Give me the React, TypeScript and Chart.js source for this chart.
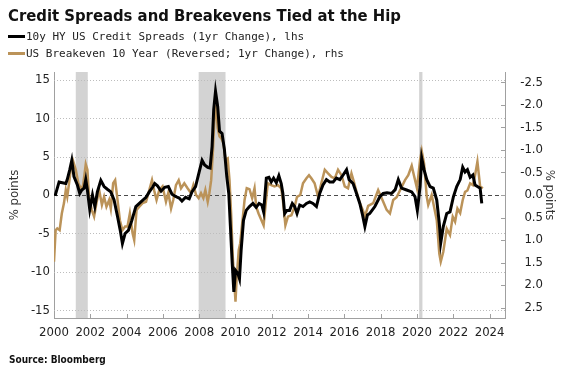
import React, { useEffect, useRef } from 'react';
import { Chart, registerables } from 'chart.js';

Chart.register(...registerables);

const TITLE = 'Credit Spreads and Breakevens Tied at the Hip';
const LEGEND_CS = '10y HY US Credit Spreads (1yr Change), lhs';
const LEGEND_BE = 'US Breakeven 10 Year (Reversed; 1yr Change), rhs';
const SOURCE = 'Source: Bloomberg';
const AXIS_TITLE = '% points';

const X_TICKS = [2000, 2002, 2004, 2006, 2008, 2010, 2012, 2014, 2016, 2018, 2020, 2022, 2024];
const LEFT_TICKS = [-15, -10, -5, 0, 5, 10, 15];
const RIGHT_TICKS = [-2.5, -2.0, -1.5, -1.0, -0.5, 0.0, 0.5, 1.0, 1.5, 2.0, 2.5];

const RECESSION_START = [2001.2, 2007.97, 2020.12];
const RECESSION_END = [2001.86, 2009.45, 2020.3];

const CS_DATES = [
  2000.06, 2000.28, 2000.46, 2000.65, 2000.73, 2000.87, 2000.98, 2001.10, 2001.29, 2001.42,
  2001.53, 2001.66, 2001.75, 2001.84, 2001.97, 2002.12, 2002.25, 2002.39, 2002.58, 2002.76,
  2002.94, 2003.13, 2003.31, 2003.50, 2003.65, 2003.77, 2003.92, 2004.10, 2004.29, 2004.51,
  2004.79, 2005.07, 2005.25, 2005.43, 2005.55, 2005.70, 2005.90, 2006.10, 2006.30, 2006.50,
  2006.70, 2006.90, 2007.05, 2007.25, 2007.45, 2007.60, 2007.80, 2008.00, 2008.16, 2008.30,
  2008.47, 2008.60, 2008.71, 2008.80, 2008.90, 2009.02, 2009.12, 2009.26, 2009.39, 2009.52,
  2009.63, 2009.72, 2009.82, 2009.91, 2010.00, 2010.13, 2010.22, 2010.31, 2010.44, 2010.59,
  2010.77, 2010.96, 2011.14, 2011.30, 2011.45, 2011.55, 2011.70, 2011.84, 2011.97, 2012.10,
  2012.25, 2012.39, 2012.52, 2012.61, 2012.71, 2012.83, 2012.98, 2013.13, 2013.26, 2013.39,
  2013.54, 2013.72, 2013.91, 2014.09, 2014.27, 2014.46, 2014.64, 2014.82, 2015.01, 2015.19,
  2015.38, 2015.56, 2015.75, 2015.93, 2016.12, 2016.26, 2016.48, 2016.67, 2016.85, 2017.00,
  2017.13, 2017.27, 2017.40, 2017.68, 2017.96, 2018.14, 2018.35, 2018.60, 2018.80, 2018.97,
  2019.15, 2019.43, 2019.71, 2019.89, 2020.02, 2020.17, 2020.26, 2020.39, 2020.54, 2020.72,
  2020.90, 2021.09, 2021.23, 2021.31, 2021.45, 2021.64, 2021.82, 2022.01, 2022.19, 2022.38,
  2022.52, 2022.65, 2022.78, 2022.93, 2023.08, 2023.20, 2023.33, 2023.48, 2023.57,
];
const CS_VALUES = [
  -0.1, 1.7, 1.6, 1.5, 2.0, 3.3, 4.5, 2.4, 1.3, 0.2,
  0.65, 0.9, 2.0, 0.65, -1.9, 0.0, -1.5, 0.4, 1.9, 1.1,
  0.75, 0.4, -0.65, -2.8, -4.6, -6.3, -5.0, -4.6, -3.3, -1.5,
  -0.9, -0.3, 0.4, 1.0, 1.5, 1.2, 0.5, 1.0, 1.1, 0.1,
  -0.2, -0.4, -0.8, -0.3, -0.5, 0.4, 1.1, 3.0, 4.5, 3.9,
  3.6, 3.5, 6.3, 11.1, 13.5, 11.5, 8.3, 8.0, 5.9, 2.4,
  0.2, -4.1, -8.9, -12.6, -9.8, -10.2, -10.9, -7.2, -3.3, -2.0,
  -1.5, -1.1, -1.6, -1.1, -1.3, -2.2, 2.2, 2.3, 1.7, 2.2,
  1.6, 2.5, 1.5, 0.2, -2.4, -2.0, -2.0, -1.1, -1.5, -2.4,
  -1.3, -1.5, -1.1, -0.9, -1.1, -1.5, 0.2, 1.3, 2.0, 1.7,
  1.7, 2.2, 2.0, 2.6, 3.3, 2.0, 1.5, 0.2, -1.1, -2.6,
  -4.1, -2.6, -2.4, -1.5, -0.2, 0.2, 0.3, 0.2, 0.7, 2.0,
  0.9, 0.65, 0.4, -0.2, -2.0, 1.1, 4.8, 3.3, 2.0, 1.1,
  0.9, -0.65, -3.7, -6.2, -4.1, -2.4, -2.2, -0.2, 1.1, 2.0,
  3.6, 3.0, 3.3, 2.3, 2.6, 1.3, 1.1, 0.9, -1.1,
];

const BE_DATES = [
  2000.00, 2000.09, 2000.18, 2000.31, 2000.43, 2000.55, 2000.65, 2000.73, 2000.83, 2000.92,
  2001.05, 2001.20, 2001.34, 2001.48, 2001.60, 2001.75, 2001.84, 2001.93, 2002.08, 2002.21,
  2002.34, 2002.49, 2002.64, 2002.76, 2002.89, 2003.04, 2003.13, 2003.26, 2003.37, 2003.50,
  2003.63, 2003.77, 2003.92, 2004.05, 2004.18, 2004.33, 2004.42, 2004.55, 2004.70, 2004.88,
  2005.07, 2005.25, 2005.40, 2005.52, 2005.65, 2005.80, 2005.98, 2006.17, 2006.30, 2006.45,
  2006.57, 2006.72, 2006.87, 2007.00, 2007.18, 2007.36, 2007.55, 2007.68, 2007.83, 2007.97,
  2008.10, 2008.23, 2008.34, 2008.47, 2008.56, 2008.66, 2008.75, 2008.86, 2008.93, 2009.02,
  2009.12, 2009.23, 2009.34, 2009.45, 2009.57, 2009.67, 2009.76, 2009.85, 2009.94, 2010.00,
  2010.07, 2010.18, 2010.26, 2010.37, 2010.50, 2010.62, 2010.77, 2010.92, 2011.05, 2011.14,
  2011.27, 2011.55, 2011.70, 2011.78, 2011.97, 2012.15, 2012.34, 2012.52, 2012.61, 2012.75,
  2012.89, 2013.08, 2013.26, 2013.39, 2013.57, 2013.72, 2013.91, 2014.05, 2014.18, 2014.36,
  2014.55, 2014.73, 2014.92, 2015.10, 2015.29, 2015.47, 2015.65, 2015.84, 2016.02, 2016.20,
  2016.39, 2016.52, 2016.67, 2016.85, 2017.03, 2017.13, 2017.31, 2017.59, 2017.86, 2018.14,
  2018.33, 2018.51, 2018.69, 2018.88, 2019.06, 2019.34, 2019.52, 2019.71, 2019.83, 2020.00,
  2020.17, 2020.26, 2020.39, 2020.54, 2020.62, 2020.81, 2020.94, 2021.09, 2021.23, 2021.31,
  2021.45, 2021.64, 2021.82, 2021.97, 2022.10, 2022.23, 2022.38, 2022.52, 2022.65, 2022.78,
  2022.93, 2023.08, 2023.20, 2023.33, 2023.48, 2023.63,
];
const BE_VALUES = [
  1.48, 0.78, 0.74, 0.78, 0.41, 0.18, -0.11, 0.04, -0.26, -0.56,
  -0.76, -0.56, -0.26, -0.15, -0.2, -0.68, -0.56, 0.04, 0.33, 0.48,
  0.18, -0.11, 0.22, 0.04, 0.26, 0.11, 0.3, -0.26, -0.33, 0.11,
  0.56, 0.78, 0.7, 0.7, 0.41, 0.85, 1.0, 0.33, 0.26, 0.18,
  0.15, -0.11, -0.33, -0.1, 0.11, -0.11, -0.19, 0.15, -0.05, 0.3,
  0.11, -0.22, -0.33, -0.15, -0.26, -0.15, -0.04, -0.22, 0.0, 0.07,
  -0.04, 0.07, -0.11, 0.15, -0.04, -0.33, -0.93, -1.89, -1.96, -1.48,
  -1.3, -1.25, -1.15, -0.78, -0.81, -0.33, 0.41, 1.37, 1.96, 2.37,
  1.81, 1.22, 1.07, 0.63, 0.11, -0.15, -0.13, 0.07, -0.15, 0.26,
  0.41, 0.67, 0.04, -0.26, -0.22, -0.19, -0.22, -0.15, 0.11, 0.67,
  0.48, 0.45, 0.26, 0.04, 0.0, -0.26, -0.37, -0.44, -0.37, -0.26,
  0.04, -0.26, -0.56, -0.48, -0.4, -0.37, -0.56, -0.44, -0.19, -0.15,
  -0.48, -0.3, -0.07, 0.18, 0.35, 0.48, 0.24, 0.18, -0.11, 0.15,
  0.33, 0.41, 0.11, 0.05, -0.1, -0.33, -0.44, -0.65, -0.44, -0.15,
  -0.78, -0.98, -0.7, 0.04, 0.22, 0.0, 0.26, 0.56, 1.3, 1.48,
  1.26, 0.75, 0.89, 0.48, 0.59, 0.3, 0.4, 0.11, -0.07, -0.1,
  -0.26, -0.22, -0.44, -0.74, -0.19, -0.15,
];

const CS_COLOR = '#000000';
const BE_COLOR = '#bb9359';
const FONT_FAMILY = '"DejaVu Sans Condensed", "DejaVu Sans", sans-serif';
const MONO_FAMILY = '"DejaVu Sans Mono", monospace';

const decorPlugin = {
  id: 'decor',
  beforeDatasetsDraw(chart: any) {
    const { ctx, chartArea: a, scales } = chart;
    const x = scales.x;
    const y = scales.y;
    const y1 = scales.y1;
    ctx.save();
    ctx.fillStyle = '#d3d3d3';
    RECESSION_START.forEach((s, i) => {
      const x0 = x.getPixelForValue(s);
      const x1 = x.getPixelForValue(RECESSION_END[i]);
      ctx.fillRect(x0, a.top, x1 - x0, a.bottom - a.top);
    });
    ctx.lineWidth = 1;
    LEFT_TICKS.forEach((v) => {
      const py = Math.round(y.getPixelForValue(v)) + 0.5;
      ctx.beginPath();
      if (v === 0) {
        ctx.setLineDash([4, 3]);
        ctx.strokeStyle = '#4a4a4a';
      } else {
        ctx.setLineDash([1, 2]);
        ctx.strokeStyle = '#bdbdbd';
      }
      ctx.moveTo(a.left, py);
      ctx.lineTo(a.right, py);
      ctx.stroke();
    });
    ctx.setLineDash([]);
    ctx.strokeStyle = '#a0a0a0';
    X_TICKS.forEach((v) => {
      const px = Math.round(x.getPixelForValue(v)) + 0.5;
      ctx.beginPath();
      ctx.moveTo(px, a.bottom);
      ctx.lineTo(px, a.bottom - 4);
      ctx.stroke();
    });
    RIGHT_TICKS.forEach((v) => {
      const py = Math.round(y1.getPixelForValue(v)) + 0.5;
      ctx.beginPath();
      ctx.moveTo(a.right, py);
      ctx.lineTo(a.right - 4, py);
      ctx.stroke();
    });
    ctx.restore();
  },
};

export default function App() {
  const ref = useRef<HTMLCanvasElement>(null);

  useEffect(() => {
    if (!ref.current) return;
    const chart = new Chart(ref.current, {
      type: 'line',
      data: {
        datasets: [
          {
            label: LEGEND_CS,
            data: CS_DATES.map((d, i) => ({ x: d, y: CS_VALUES[i] })),
            borderColor: CS_COLOR,
            borderWidth: 3,
            pointRadius: 0,
            tension: 0,
            yAxisID: 'y',
          },
          {
            label: LEGEND_BE,
            data: BE_DATES.map((d, i) => ({ x: d, y: BE_VALUES[i] })),
            borderColor: BE_COLOR,
            borderWidth: 2.5,
            pointRadius: 0,
            tension: 0,
            yAxisID: 'y1',
          },
        ],
      },
      options: {
        animation: false,
        responsive: false,
        devicePixelRatio: 1,
        layout: { padding: { top: 72, left: 0, right: 31, bottom: 0 }, autoPadding: false },
        plugins: {
          legend: { display: false },
          title: { display: false },
          tooltip: { enabled: false },
        },
        scales: {
          x: {
            type: 'linear',
            position: 'bottom',
            min: 2000,
            max: 2024.85,
            afterBuildTicks: (axis: any) => {
              axis.ticks = X_TICKS.map((v) => ({ value: v }));
            },
            afterFit: (axis: any) => {
              axis.height = 59;
            },
            grid: { display: false, drawTicks: false },
            border: { display: true, color: '#a0a0a0', width: 1 },
            ticks: {
              autoSkip: false,
              maxRotation: 0,
              padding: 7,
              color: '#222',
              font: { family: FONT_FAMILY, size: 13 },
              callback: (v: any) => String(v),
            },
          },
          y: {
            type: 'linear',
            position: 'left',
            min: -16,
            max: 16,
            afterBuildTicks: (axis: any) => {
              axis.ticks = LEFT_TICKS.map((v) => ({ value: v }));
            },
            afterFit: (axis: any) => {
              axis.width = 54;
            },
            grid: { display: false, drawTicks: false },
            border: { display: true, color: '#a0a0a0', width: 1 },
            ticks: {
              padding: 4,
              color: '#222',
              font: { family: FONT_FAMILY, size: 13 },
              callback: (v: any) => String(v),
            },
            title: {
              display: true,
              text: AXIS_TITLE,
              color: '#333',
              font: { family: FONT_FAMILY, size: 13 },
              padding: { top: 7, bottom: 0 },
            },
          },
          y1: {
            type: 'linear',
            position: 'right',
            reverse: true,
            min: -2.73,
            max: 2.73,
            afterBuildTicks: (axis: any) => {
              axis.ticks = RIGHT_TICKS.map((v) => ({ value: v }));
            },
            afterFit: (axis: any) => {
              axis.width = 38;
            },
            grid: { display: false, drawTicks: false },
            border: { display: true, color: '#a0a0a0', width: 1 },
            ticks: {
              padding: 7,
              crossAlign: 'far',
              color: '#222',
              font: { family: FONT_FAMILY, size: 13 },
              callback: (v: any) => Number(v).toFixed(1),
            },
            title: {
              display: true,
              text: AXIS_TITLE,
              color: '#333',
              font: { family: FONT_FAMILY, size: 13 },
              padding: { top: -14, bottom: 0 },
            },
          },
        },
      } as any,
      plugins: [decorPlugin],
    });
    return () => chart.destroy();
  }, []);

  const marker = (color: string, top: number) => (
    <div style={{ position: 'absolute', left: 8, top, width: 17, height: 3, background: color }} />
  );

  return (
    <div style={{ position: 'absolute', left: 0, top: 0, width: 574, height: 377, background: '#fff', overflow: 'hidden' }}>
      <canvas ref={ref} width={574} height={377} style={{ position: 'absolute', left: 0, top: 0, width: 574, height: 377 }} />
      <div style={{ position: 'absolute', left: 8, top: 6, fontFamily: FONT_FAMILY, fontWeight: 'bold', fontSize: 16.5, lineHeight: '20px', whiteSpace: 'nowrap', color: '#111' }}>
        {TITLE}
      </div>
      {marker(CS_COLOR, 35)}
      <div style={{ position: 'absolute', left: 26, top: 29, fontFamily: MONO_FAMILY, fontSize: 11, lineHeight: '16px', whiteSpace: 'nowrap', color: '#222' }}>
        {LEGEND_CS}
      </div>
      {marker(BE_COLOR, 52)}
      <div style={{ position: 'absolute', left: 26, top: 46, fontFamily: MONO_FAMILY, fontSize: 11, lineHeight: '16px', whiteSpace: 'nowrap', color: '#222' }}>
        {LEGEND_BE}
      </div>
      <div style={{ position: 'absolute', left: 9, top: 354, fontFamily: FONT_FAMILY, fontWeight: 'bold', fontSize: 10, lineHeight: '12px', whiteSpace: 'nowrap', color: '#111' }}>
        {SOURCE}
      </div>
    </div>
  );
}
